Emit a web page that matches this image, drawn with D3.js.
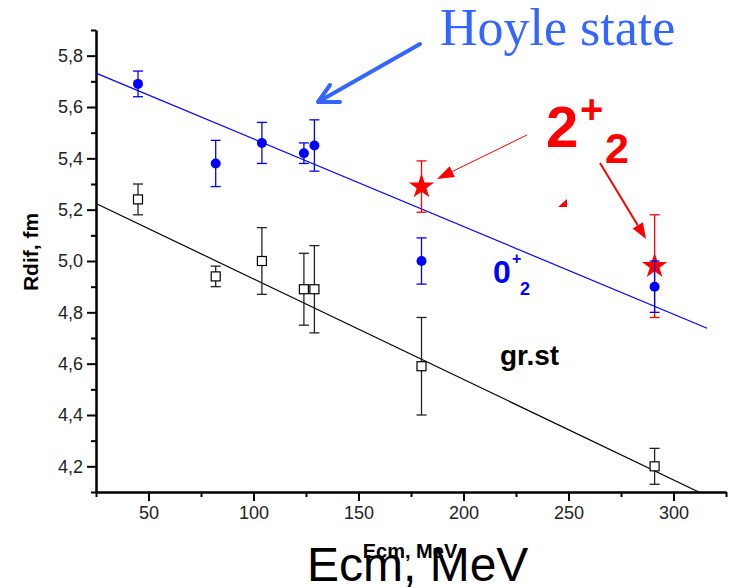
<!DOCTYPE html>
<html>
<head>
<meta charset="utf-8">
<script src="https://cdn.jsdelivr.net/npm/d3@7"></script>
<style>
  body { margin: 0; background: #fff; }
  svg { display: block; font-family: "Liberation Sans", Arial, sans-serif; }
</style>
</head>
<body>
<svg id="chart"></svg>
<script>
// values
const energy = [45, 82, 104, 124, 129, 180, 291];
const hoyleR = [5.69, 5.38, 5.46, 5.42, 5.45, 5.00, 4.90];
const hoyleErr = [0.05, 0.09, 0.08, 0.04, 0.10, 0.09, 0.10];
const groundR = [5.24, 4.94, 5.00, 4.89, 4.89, 4.59, 4.20];
const groundErr = [0.06, 0.04, 0.13, 0.14, 0.17, 0.19, 0.07];
const state2E = [180, 291];
const state2R = [5.29, 4.98];
const state2Err = [0.10, 0.20];
const hoyleFit = [[25, 5.732], [316, 4.738]];
const groundFit = [[25, 5.224], [312, 4.10]];
const xMajor = [50, 100, 150, 200, 250, 300];
const xMinor = [25, 75, 125, 175, 225, 275, 325];
const yMajor = [4.2, 4.4, 4.6, 4.8, 5.0, 5.2, 5.4, 5.6, 5.8];
const yMinor = [4.1, 4.3, 4.5, 4.7, 4.9, 5.1, 5.3, 5.5, 5.7, 5.9];

const W = 731, H = 587;
const margin = {top: 30, right: 5, bottom: 95, left: 96};
const w = W - margin.left - margin.right;
const h = H - margin.top - margin.bottom;

const svg = d3.select("#chart").attr("width", W).attr("height", H);
const g = svg.append("g").attr("transform", "translate(" + margin.left + "," + margin.top + ")");

const x = d3.scaleLinear().domain([25, 325]).range([0, w]);
const y = d3.scaleLinear().domain([4.1, 5.9]).range([h, 0]);
const fmt = d => d3.format(".1f")(d).replace(".", ",");

// axes
const xAx = g.append("g").attr("transform", "translate(0," + h + ")");
xAx.call(d3.axisBottom(x).tickValues(xMinor).tickSize(5).tickSizeOuter(0).tickFormat(""));
xAx.append("g").call(d3.axisBottom(x).tickValues(xMajor).tickSize(9).tickSizeOuter(0).tickPadding(5));
const yAx = g.append("g");
yAx.call(d3.axisLeft(y).tickValues(yMinor).tickSize(5).tickSizeOuter(0).tickFormat(""));
yAx.append("g").call(d3.axisLeft(y).tickValues(yMajor).tickSize(9).tickSizeOuter(0).tickPadding(4).tickFormat(fmt));
g.selectAll(".domain").attr("stroke", "#000").attr("stroke-width", 2);
g.selectAll(".tick line").attr("stroke", "#000").attr("stroke-width", 2);
g.selectAll(".tick text").attr("font-size", 18).attr("fill", "#222")
  .attr("font-family", "Liberation Sans, Arial, sans-serif");

// fit lines
const line = d3.line().x(d => x(d[0])).y(d => y(d[1]));
g.append("path").datum(groundFit).attr("d", line).attr("stroke", "#000").attr("stroke-width", 1.2).attr("fill", "none");
g.append("path").datum(hoyleFit).attr("d", line).attr("stroke", "#0000ff").attr("stroke-width", 1.2).attr("fill", "none");

function errorBars(xs, ys, es, color) {
  const eg = g.append("g").attr("stroke", color).attr("stroke-width", 1.3);
  xs.forEach((xv, i) => {
    const cx = x(xv), y0 = y(ys[i] - es[i]), y1 = y(ys[i] + es[i]);
    eg.append("line").attr("x1", cx).attr("x2", cx).attr("y1", y0).attr("y2", y1);
    eg.append("line").attr("x1", cx - 5).attr("x2", cx + 5).attr("y1", y0).attr("y2", y0);
    eg.append("line").attr("x1", cx - 5).attr("x2", cx + 5).attr("y1", y1).attr("y2", y1);
  });
}

// ground state
errorBars(energy, groundR, groundErr, "#222");
g.append("g").selectAll("rect").data(energy).join("rect")
  .attr("x", d => x(d) - 4.5).attr("y", (d, i) => y(groundR[i]) - 4.5)
  .attr("width", 9).attr("height", 9)
  .attr("fill", "#fff").attr("stroke", "#000").attr("stroke-width", 1.2);

// 2+2 state
errorBars(state2E, state2R, state2Err, "#ff0000");
g.append("g").selectAll("path").data(state2E).join("path")
  .attr("d", d3.symbol(d3.symbolStar).size(200))
  .attr("transform", (d, i) => "translate(" + x(d) + "," + y(state2R[i]) + ")")
  .attr("fill", "#ff0000");

// Hoyle state
errorBars(energy, hoyleR, hoyleErr, "#0000ff");
g.append("g").selectAll("circle").data(energy).join("circle")
  .attr("cx", d => x(d)).attr("cy", (d, i) => y(hoyleR[i])).attr("r", 5)
  .attr("fill", "#0000ff");

// axis titles
svg.append("text").attr("transform", "translate(38,252) rotate(-90)")
  .attr("text-anchor", "middle").attr("font-weight", "bold").attr("font-size", 21).text("Rdif, fm");
svg.append("text").attr("x", 307).attr("y", 581).attr("font-size", 48).text("Ecm, MeV");
svg.append("text").attr("x", 410).attr("y", 558).attr("text-anchor", "middle")
  .attr("font-weight", "bold").attr("font-size", 20).text("Ecm, MeV");

// annotations
svg.append("text").attr("x", 440).attr("y", 45).attr("font-family", "Liberation Serif, Times New Roman, serif")
  .attr("font-size", 52).attr("fill", "#3366ff").text("Hoyle state");
svg.append("path").attr("d", "M420,44L318,102M330,85L318,102L340,102")
  .attr("stroke", "#3366ff").attr("stroke-width", 4).attr("fill", "none")
  .attr("stroke-linecap", "round").attr("stroke-linejoin", "round");

function arrow(x1, y1, x2, y2, sw, len, wid) {
  const a = Math.atan2(y2 - y1, x2 - x1);
  const bx = x2 - len * Math.cos(a), by = y2 - len * Math.sin(a);
  const px = Math.sin(a) * wid / 2, py = -Math.cos(a) * wid / 2;
  svg.append("line").attr("x1", x1).attr("y1", y1).attr("x2", bx).attr("y2", by)
    .attr("stroke", "#ff0000").attr("stroke-width", sw);
  svg.append("path").attr("d", "M" + x2 + "," + y2 + "L" + (bx + px) + "," + (by + py) + "L" + (bx - px) + "," + (by - py) + "Z")
    .attr("fill", "#ff0000");
}
arrow(527, 135, 437, 179, 1, 17, 12);
arrow(600, 163, 646, 239, 2, 16, 12);
svg.append("path").attr("d", "M558,207L567,199L567,207Z").attr("fill", "#ff0000");

const red = svg.append("g").attr("fill", "#ff0000").attr("font-weight", "bold");
red.append("text").attr("x", 546).attr("y", 147).attr("font-size", 58).text("2");
red.append("text").attr("x", 580).attr("y", 123).attr("font-size", 40).text("+");
red.append("text").attr("x", 605).attr("y", 163).attr("font-size", 43).text("2");

const blue = svg.append("g").attr("fill", "#0000ff").attr("font-weight", "bold");
blue.append("text").attr("x", 493).attr("y", 283).attr("font-size", 32).text("0");
blue.append("text").attr("x", 512).attr("y", 264).attr("font-size", 16).text("+");
blue.append("text").attr("x", 520).attr("y", 295).attr("font-size", 18).text("2");

svg.append("text").attr("x", 500).attr("y", 365).attr("font-weight", "bold").attr("font-size", 28).text("gr.st");
</script>
</body>
</html>
